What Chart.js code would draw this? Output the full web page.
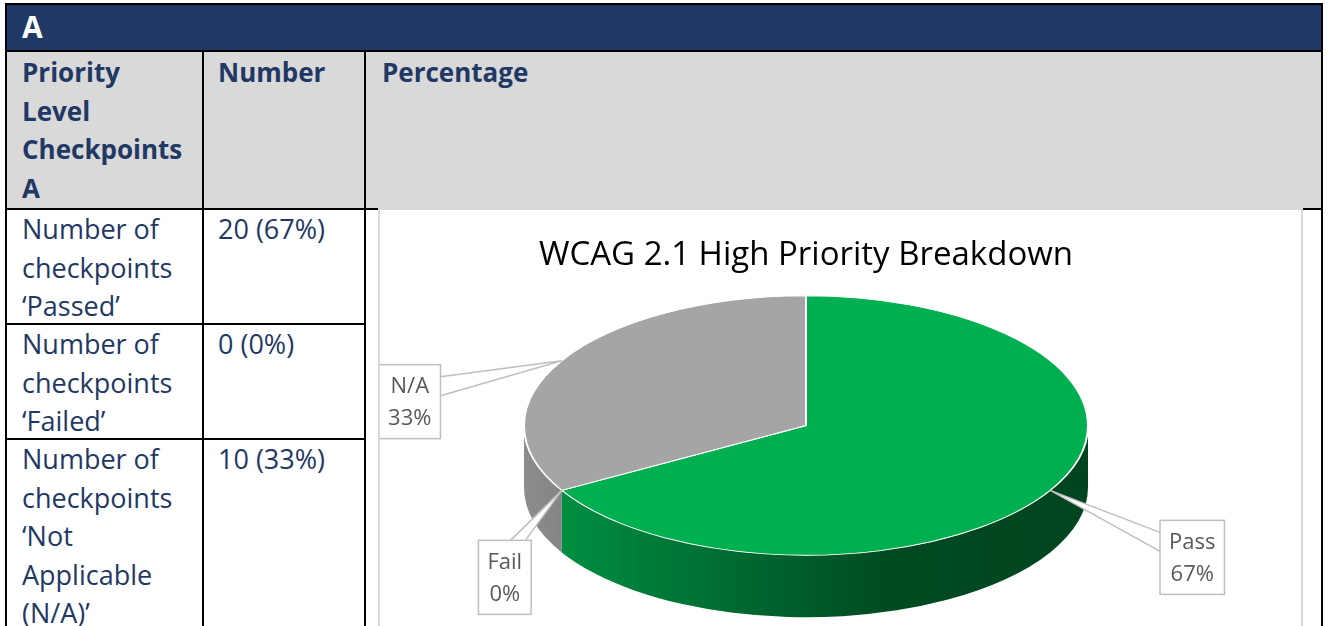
<!DOCTYPE html>
<html>
<head>
<meta charset="utf-8">
<title>WCAG 2.1 High Priority Breakdown</title>
<script src="https://cdn.jsdelivr.net/npm/chart.js@4.4.1/dist/chart.umd.min.js"></script>
<style>
    html, body { margin: 0; padding: 0; width: 1329px; height: 626px; overflow: hidden; background: #fff; }
    body { position: relative; font-family: "Open Sans", sans-serif; color: #1F3864; }
    .abs { position: absolute; }
    .line { position: absolute; background: #000; }
    .txt { position: absolute; font-size: 26px; line-height: 38.5px; white-space: nowrap; }
    .body { font-size: 27px; }
    .bold { font-weight: bold; }
    #frame { position: absolute; left: 378px; top: 210px; width: 921px; height: 416px; background: #fff;
             border-left: 2px solid #D9D9D9; border-right: 2px solid #D9D9D9; overflow: hidden; }
    #pie { position: absolute; left: 0; top: 0; }
</style>
</head>
<body>
<!-- header bar -->
<div class="abs" style="left:5px;top:3px;width:1318px;height:48px;background:#1F3864;"></div>
<div class="abs bold" style="left:22px;top:7px;font-size:30px;line-height:40px;color:#fff;">A</div>
<!-- grey header row -->
<div class="abs" style="left:7px;top:52px;width:1314px;height:157px;background:#D9D9D9;"></div>

<!-- grid lines -->
<div class="line" style="left:5px;top:3px;width:1318px;height:2px;"></div>
<div class="line" style="left:5px;top:3px;width:2px;height:623px;"></div>
<div class="line" style="left:1321px;top:3px;width:2px;height:623px;"></div>
<div class="line" style="left:5px;top:50px;width:1318px;height:2px;"></div>
<div class="line" style="left:5px;top:208px;width:1318px;height:2px;"></div>
<div class="line" style="left:202px;top:51px;width:2px;height:575px;"></div>
<div class="line" style="left:364px;top:51px;width:2px;height:575px;"></div>
<div class="line" style="left:5px;top:323px;width:361px;height:2px;"></div>
<div class="line" style="left:5px;top:438px;width:361px;height:2px;"></div>
<div class="abs" style="left:378px;top:208px;width:925px;height:2px;background:#D9D9D9;"></div>

<!-- header texts -->
<div class="txt bold" style="left:22px;top:53px;">Priority<br>Level<br>Checkpoints<br>A</div>
<div class="txt bold" style="left:218px;top:53px;">Number</div>
<div class="txt bold" style="left:382px;top:53px;">Percentage</div>

<!-- body rows -->
<div id="rows"></div>

<div id="frame"><canvas id="pie" width="921" height="660"></canvas></div>

<script>
const categories = ['Pass', 'Fail', 'N/A'];
const counts = [20, 0, 10];
const rowLabels = [
    ['Number of', 'checkpoints', '‘Passed’'],
    ['Number of', 'checkpoints', '‘Failed’'],
    ['Number of', 'checkpoints', '‘Not', 'Applicable', '(N/A)’']
];
const sliceColors = ['#00B050', '#ED7D31', '#A5A5A5'];

const total = counts.reduce((a, b) => a + b, 0);
const pct = v => Math.round(v / total * 100);

// table body, one row per category
const rowTops = [210, 325, 440];
let rowsHTML = '';
rowLabels.forEach((lines, i) => {
    rowsHTML += `<div class="txt body" style="left:22px;top:${rowTops[i]}px;">${lines.join('<br>')}</div>`;
    rowsHTML += `<div class="txt body" style="left:218px;top:${rowTops[i]}px;">${counts[i]} (${pct(counts[i])}%)</div>`;
});
document.getElementById('rows').innerHTML = rowsHTML;

function shade(hex, f) {
    const n = parseInt(hex.slice(1), 16);
    const r = Math.round(((n >> 16) & 255) * f);
    const g = Math.round(((n >> 8) & 255) * f);
    const b = Math.round((n & 255) * f);
    return `rgb(${r},${g},${b})`;
}

// squash the pie into a tilted disc and draw its front wall
const pie3d = {
    id: 'pie3d',
    beforeDatasetsDraw(chart, args, opts) {
        const ctx = chart.ctx;
        const meta = chart.getDatasetMeta(0);
        const first = meta.data[0];
        const cx = first.x, cy = first.y, r = first.outerRadius;
        const top = cy - r;
        const ry = r * opts.tilt;
        const ey = top + ry;

        meta.data.forEach((arc, i) => {
            const a = Math.max(arc.startAngle, 0);
            const b = Math.min(arc.endAngle, Math.PI);
            if (b <= a) return;
            const base = sliceColors[i];
            const grad = ctx.createLinearGradient(cx - r, 0, cx + r, 0);
            grad.addColorStop(0, shade(base, 0.85));
            grad.addColorStop(0.65, shade(base, 0.42));
            grad.addColorStop(1, shade(base, 0.39));
            ctx.beginPath();
            ctx.ellipse(cx, ey, r, ry, 0, a, b, false);
            ctx.ellipse(cx, ey + opts.depth, r, ry, 0, b, a, true);
            ctx.closePath();
            ctx.fillStyle = grad;
            ctx.fill();
        });

        ctx.save();
        ctx.translate(0, top);
        ctx.scale(1, opts.tilt);
        ctx.translate(0, -top);
    },
    afterDatasetsDraw(chart, args, opts) {
        const ctx = chart.ctx;
        ctx.restore();

        const meta = chart.getDatasetMeta(0);
        const first = meta.data[0];
        const cx = first.x, cy = first.y, r = first.outerRadius;
        const ry = r * opts.tilt;
        const ey = cy - r + ry;

        ctx.save();
        ctx.font = '22px "Open Sans"';
        ctx.textAlign = 'center';
        ctx.textBaseline = 'middle';
        meta.data.forEach((arc, i) => {
            const mid = (arc.startAngle + arc.endAngle) / 2;
            const ax = cx + r * Math.cos(mid);
            const ay = ey + ry * Math.sin(mid);
            const off = opts.offsets[i];
            const lines = [categories[i], pct(counts[i]) + '%'];
            const w = Math.max(...lines.map(t => ctx.measureText(t).width)) + 18;
            const h = 74;
            const bx = ax + off.dx - w / 2;
            const by = ay + off.dy - h / 2;

            // wedge from the box to the slice edge
            let p1, p2;
            if (Math.abs(off.dx) > Math.abs(off.dy)) {
                const ex = off.dx < 0 ? bx + w : bx;
                p1 = [ex, by + 12];
                p2 = [ex, by + 31];
            } else {
                p1 = [bx + 32, by];
                p2 = [bx + 47, by];
            }
            ctx.beginPath();
            ctx.moveTo(p1[0], p1[1]);
            ctx.lineTo(ax, ay);
            ctx.lineTo(p2[0], p2[1]);
            ctx.fillStyle = '#FFFFFF';
            ctx.fill();
            ctx.strokeStyle = '#BFBFBF';
            ctx.lineWidth = 1.5;
            ctx.stroke();

            ctx.fillStyle = '#FFFFFF';
            ctx.fillRect(bx, by, w, h);
            ctx.strokeRect(bx, by, w, h);

            ctx.fillStyle = '#595959';
            ctx.fillText(lines[0], bx + w / 2, by + 22);
            ctx.fillText(lines[1], bx + w / 2, by + 54);
        });
        ctx.restore();
    }
};

new Chart(document.getElementById('pie'), {
    type: 'pie',
    data: {
        labels: categories,
        datasets: [{
            data: counts,
            backgroundColor: sliceColors,
            borderColor: '#FFFFFF',
            borderWidth: 2,
            hoverOffset: 0,
            clip: false
        }]
    },
    options: {
        responsive: false,
        animation: false,
        events: [],
        layout: { padding: { left: 143, right: 212, top: 0, bottom: 9 } },
        plugins: {
            legend: { display: false },
            tooltip: { enabled: false },
            title: {
                display: true,
                text: 'WCAG 2.1 High Priority Breakdown',
                color: '#000000',
                font: { family: 'Open Sans', size: 33, weight: 'normal' },
                padding: { top: 26, bottom: 19 }
            },
            pie3d: {
                tilt: 0.46,
                depth: 62,
                offsets: [{ dx: 142, dy: 67 }, { dx: -57, dy: 87 }, { dx: -152, dy: 41 }]
            }
        }
    },
    plugins: [pie3d]
});
</script>
</body>
</html>
